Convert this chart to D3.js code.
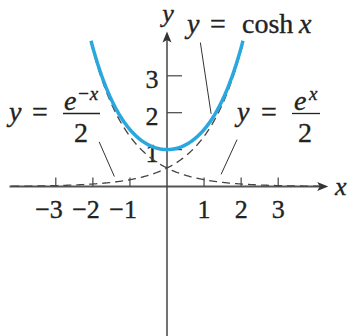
<!DOCTYPE html>
<html lang="en">
  <head>
    <meta charset="utf-8">
    <title>cosh x</title>
    <script src="https://cdnjs.cloudflare.com/ajax/libs/d3/7.8.5/d3.min.js"></script>
    <style type="text/css">
      body { margin: 0; background: #fff; }
    </style>
  </head>
  <body>
    <script type="text/javascript">

    // Width and height
    var w = 350;
    var h = 336;
    var font = "Liberation Serif";

    // data
    var xTicks = [-3, -2, -1, 1, 2, 3];
    var yTicks = [1, 2, 3];
    var coshRange = [-2.05, 2.05];
    var expRange = [-4.2, 2.05];      // y = e^x / 2
    var expNegRange = [-2.05, 4.15];  // y = e^-x / 2
    // leader lines in data units [x1, y1, x2, y2]
    var leaderCosh = [0.9, 3.9, 1.19, 1.97];
    var leaderLeft = [-1.83, 1.21, -1.42, 0.27];
    var leaderRight = [1.89, 1.27, 1.46, 0.33];

    var x = d3.scaleLinear().domain([-3, 3]).range([55.8, 278.2]);
    var y = d3.scaleLinear().domain([0, 3]).range([186.5, 75.8]);

    var svg = d3.select("body")
                .append("svg")
                .attr("width", w)
                .attr("height", h);

    function sample(f, range) {
      var pts = [];
      var n = 200;
      for (var i = 0; i <= n; i++) {
        var t = range[0] + (range[1] - range[0]) * i / n;
        pts.push([t, f(t)]);
      }
      return pts;
    }

    var line = d3.line()
                 .x(function(d) { return x(d[0]); })
                 .y(function(d) { return y(d[1]); });

    // axes
    var x0 = x(0), y0 = y(0);
    svg.append("line")
       .attr("x1", x(-4.25)).attr("y1", y0)
       .attr("x2", x(4.2)).attr("y2", y0)
       .attr("stroke", "#555").attr("stroke-width", 1.8);
    svg.append("path")
       .attr("d", "M" + x(4.35) + "," + y0 + "l-11,-4.5l2.5,4.5l-2.5,4.5z")
       .attr("fill", "#333");
    svg.append("line")
       .attr("x1", x0).attr("y1", y(4.1))
       .attr("x2", x0).attr("y2", h)
       .attr("stroke", "#444").attr("stroke-width", 1.5);
    svg.append("path")
       .attr("d", "M" + x0 + "," + y(4.2) + "l-4.5,11l4.5,-2.5l4.5,2.5z")
       .attr("fill", "#333");

    // ticks
    svg.selectAll(".xtick")
       .data(xTicks)
       .enter()
       .append("line")
       .attr("x1", function(d) { return x(d); })
       .attr("x2", function(d) { return x(d); })
       .attr("y1", y0 - 9)
       .attr("y2", y0)
       .attr("stroke", "#444").attr("stroke-width", 1.2);

    svg.selectAll(".ytick")
       .data(yTicks)
       .enter()
       .append("line")
       .attr("x1", x0)
       .attr("x2", x0 + 15)
       .attr("y1", function(d) { return y(d); })
       .attr("y2", function(d) { return y(d); })
       .attr("stroke", "#444").attr("stroke-width", 1.2);

    svg.selectAll(".xlab")
       .data(xTicks)
       .enter()
       .append("text")
       .text(function(d) { return d < 0 ? "\u2212" + (-d) : d; })
       .attr("text-anchor", function(d) { return d < 0 ? "end" : "middle"; })
       .attr("x", function(d) { return d < 0 ? x(d) + 7 : x(d); })
       .attr("y", 218)
       .attr("font-family", font)
       .attr("font-size", "26px")
       .attr("fill", "#222").attr("stroke", "#222").attr("stroke-width", 0.35);

    svg.selectAll(".ylab")
       .data(yTicks)
       .enter()
       .append("text")
       .text(function(d) { return d; })
       .attr("text-anchor", "middle")
       .attr("x", x0 - 15)
       .attr("y", function(d) { return y(d) + 12; })
       .attr("font-family", font)
       .attr("font-size", "26px")
       .attr("fill", "#222").attr("stroke", "#222").attr("stroke-width", 0.35);

    // dashed exponentials
    svg.append("path")
       .attr("d", line(sample(function(t) { return Math.exp(t) / 2; }, expRange)))
       .attr("fill", "none").attr("stroke", "#444")
       .attr("stroke-width", 1.3).attr("stroke-dasharray", "8,5");
    svg.append("path")
       .attr("d", line(sample(function(t) { return Math.exp(-t) / 2; }, expNegRange)))
       .attr("fill", "none").attr("stroke", "#444")
       .attr("stroke-width", 1.3).attr("stroke-dasharray", "8,5");

    // cosh
    svg.append("path")
       .attr("d", line(sample(function(t) { return (Math.exp(t) + Math.exp(-t)) / 2; }, coshRange)))
       .attr("fill", "none").attr("stroke", "#29a7de")
       .attr("stroke-width", 3.5);

    // leader lines
    [leaderCosh, leaderLeft, leaderRight].forEach(function(l) {
      svg.append("line")
         .attr("x1", x(l[0])).attr("y1", y(l[1]))
         .attr("x2", x(l[2])).attr("y2", y(l[3]))
         .attr("stroke", "#333").attr("stroke-width", 1);
    });

    // labels
    function txt(s, px, py, size, italic, anchor) {
      return svg.append("text").text(s)
                .attr("x", px).attr("y", py)
                .attr("font-family", font)
                .attr("font-size", size + "px")
                .attr("font-style", italic ? "italic" : "normal")
                .attr("text-anchor", anchor || "start")
                .attr("fill", "#222").attr("stroke", "#222").attr("stroke-width", 0.35);
    }

    txt("x", 335, 195, 26, true);
    txt("y", 168, 22, 26, true, "middle");

    txt("y", 187, 33, 28, true);
    txt("=", 210, 33, 28, false);
    txt("cosh", 242, 33, 28, false);
    txt("x", 299, 33, 28, true);

    txt("y", 9, 121, 28, true);
    txt("=", 32, 121, 28, false);
    txt("e", 64, 110, 28, true);
    txt("\u2212x", 77, 100, 19, true);
    txt("2", 81, 142, 28, false, "middle");
    svg.append("line").attr("x1", 63).attr("x2", 100).attr("y1", 113.5).attr("y2", 113.5)
       .attr("stroke", "#222").attr("stroke-width", 1.3);

    txt("y", 237, 121, 28, true);
    txt("=", 261, 121, 28, false);
    txt("e", 294, 110, 28, true);
    txt("x", 309, 100, 19, true);
    svg.append("line").attr("x1", 292).attr("x2", 320).attr("y1", 113.5).attr("y2", 113.5)
       .attr("stroke", "#222").attr("stroke-width", 1.3);
    txt("2", 305, 142, 28, false, "middle");

    </script>
  </body>
</html>
